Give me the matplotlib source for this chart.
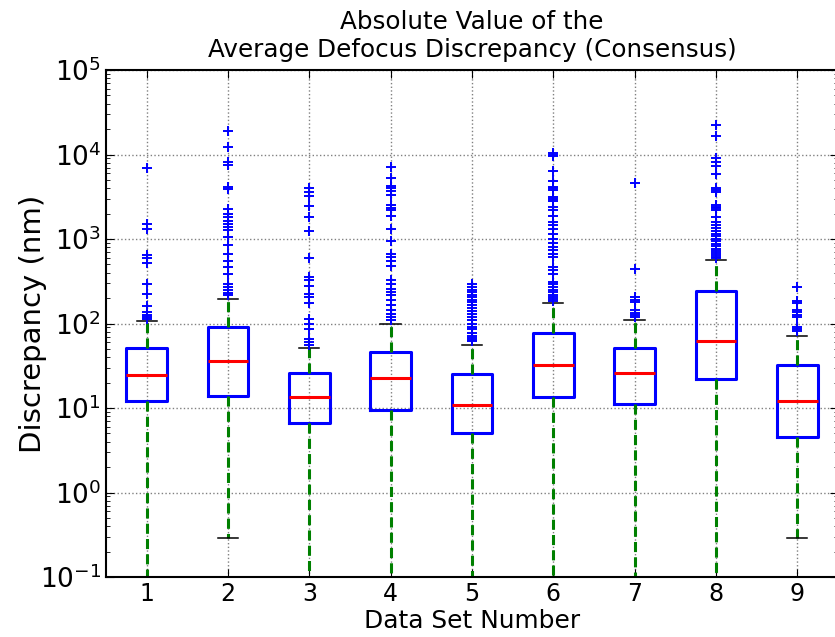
import numpy as np
import matplotlib
matplotlib.use('Agg')
import matplotlib.pyplot as plt

# Statistiques de chaque jeu de donnees (nm)
jeux = [1, 2, 3, 4, 5, 6, 7, 8, 9]
q1 = [12.0, 13.7, 6.6, 9.5, 5.0, 13.6, 11.3, 22.3, 4.5]
mediane = [24.8, 35.6, 13.5, 22.7, 11.0, 32.3, 26.2, 62.0, 12.2]
q3 = [50.8, 90.0, 25.7, 45.5, 25.3, 77.3, 51.4, 242.0, 32.0]
moustache_haut = [107.0, 196.0, 51.4, 100.0, 56.0, 173.0, 110.0, 571.0, 71.0]
moustache_bas = [0.01, 0.29, 0.01, 0.01, 0.01, 0.01, 0.01, 0.01, 0.29]

# Valeurs aberrantes
aberrants = [
    [7000, 1500, 1300, 640, 590, 520, 290, 225, 160, 135, 125, 118, 114],
    [19000, 12300, 8200, 7500, 4100, 3900, 2250, 2000, 1800, 1630, 1500, 1370,
     1270, 1060, 845, 665, 555, 460, 384, 292, 272, 248, 231, 216],
    [3960, 3620, 3210, 2450, 1800, 1250, 600, 355, 325, 280, 222, 207, 175,
     112, 100, 86, 66, 60, 56],
    [7140, 5200, 4200, 3960, 3720, 3300, 2510, 2340, 2190, 1860, 1330, 942,
     660, 615, 552, 478, 326, 297, 259, 237, 216, 189, 165, 144, 129, 120, 110],
    [292, 270, 250, 235, 220, 205, 190, 178, 165, 152, 140, 130, 120, 110,
     100, 92, 85, 78, 72, 68, 64, 62],
    [10500, 10000, 9500, 6400, 4880, 4140, 3960, 3790, 3150, 3010, 2830, 2400,
     2230, 1860, 1600, 1460, 1330, 1160, 1010, 900, 810, 750, 670, 615, 468,
     427, 390, 310, 290, 270, 250, 235, 220, 205, 195, 185],
    [4540, 436, 207, 189, 180, 144, 134, 126, 120],
    [22200, 16500, 8970, 8190, 7270, 5850, 3960, 3790, 3610, 2510, 2400, 2300,
     2190, 1800, 1600, 1450, 1350, 1250, 1150, 1080, 1000, 940, 880, 820, 770,
     720, 680, 640, 610, 590],
    [272, 185, 173, 144, 137, 126, 118, 91, 87, 82],
]

stats = []
for i in range(len(jeux)):
    stats.append(dict(q1=q1[i], med=mediane[i], q3=q3[i],
                      whislo=moustache_bas[i], whishi=moustache_haut[i],
                      fliers=np.array(aberrants[i]), label=str(jeux[i])))

fig = plt.figure(figsize=(8.35, 6.37), dpi=100)
ax = fig.add_axes([106/835, 60/637, 732/835, 507/637])

ax.bxp(stats, positions=jeux, widths=0.5,
       boxprops=dict(color='blue', linewidth=2.2),
       medianprops=dict(color='red', linewidth=2.2),
       whiskerprops=dict(color='green', linestyle=(0, (3.3, 1.7)), linewidth=2.2),
       capprops=dict(color='black', linewidth=1.1),
       flierprops=dict(marker='+', markeredgecolor='blue', markersize=7.5,
                       markeredgewidth=1.4, linestyle='none'))

ax.set_yscale('log')
ax.set_ylim(0.1, 1e5)
ax.set_xlim(0.5, 9.5)
ax.grid(True, which='major', color='gray', linestyle=':', linewidth=1)
ax.set_axisbelow(True)
ax.tick_params(which='both', direction='in', top=True, right=True)
ax.tick_params(which='major', length=6)
ax.tick_params(which='minor', length=3)
ax.tick_params(axis='x', labelsize=17)
ax.tick_params(axis='y', labelsize=19)
for s in ax.spines.values():
    s.set_linewidth(1.5)

ax.set_title('Absolute Value of the\nAverage Defocus Discrepancy (Consensus)',
             fontsize=17.7, pad=9.5)
ax.set_xlabel('Data Set Number', fontsize=17.9, labelpad=2)
ax.set_ylabel('Discrepancy (nm)', fontsize=21, labelpad=-5)

plt.savefig('out.png', dpi=100)
